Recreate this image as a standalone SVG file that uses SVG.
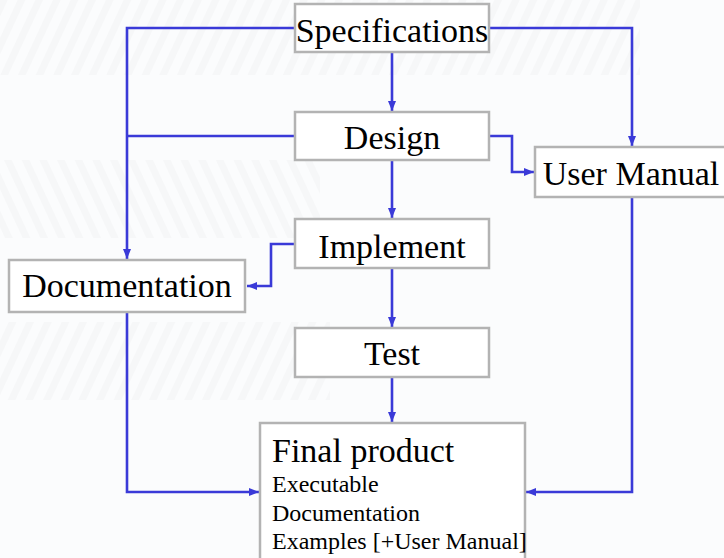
<svg xmlns="http://www.w3.org/2000/svg" width="724" height="558" viewBox="0 0 724 558">
  <style>
    .box { fill: #ffffff; stroke: #b3b3b3; stroke-width: 2.5; }
    .lbl { font-family: "Liberation Serif", "Times New Roman", serif; font-size: 34px; fill: #000000; }
    .sub { font-family: "Liberation Serif", "Times New Roman", serif; font-size: 24px; fill: #000000; }
    .wire { fill: none; stroke: #3a3ad8; stroke-width: 2.6; }
  </style>
  <defs>
    <marker id="arrow" markerUnits="userSpaceOnUse" markerWidth="10" markerHeight="10" viewBox="0 0 10 10" refX="10" refY="5" orient="auto">
      <path d="M0,1 L10,5 L0,9 Z" fill="#3a3ad8"/>
    </marker>
    <pattern id="streaksA" width="16" height="16" patternUnits="userSpaceOnUse" patternTransform="rotate(25)">
      <rect width="16" height="16" fill="#fbfcfd"/>
      <rect width="7" height="16" fill="#f4f5f6"/>
    </pattern>
    <pattern id="streaksB" width="16" height="16" patternUnits="userSpaceOnUse" patternTransform="rotate(-25)">
      <rect width="16" height="16" fill="#fbfcfd"/>
      <rect width="7" height="16" fill="#f4f5f6"/>
    </pattern>
  </defs>

  <!-- slide background with faint streak bands -->
  <rect width="724" height="558" fill="#fbfcfd"/>
  <rect x="0" y="0" width="640" height="75" fill="url(#streaksA)" opacity="0.7"/>
  <rect x="0" y="160" width="320" height="78" fill="url(#streaksB)" opacity="0.7"/>
  <rect x="0" y="322" width="330" height="78" fill="url(#streaksA)" opacity="0.7"/>

  <g id="connectors">
    <!-- Specifications / Design to Documentation -->
    <path class="wire" d="M295,28 H127 V259" marker-end="url(#arrow)"/>
    <path class="wire" d="M295,136 H127"/>
    <!-- Specifications to User Manual -->
    <path class="wire" d="M489,28 H632 V146" marker-end="url(#arrow)"/>
    <!-- main chain -->
    <path class="wire" d="M392,52 V111" marker-end="url(#arrow)"/>
    <path class="wire" d="M392,160 V218" marker-end="url(#arrow)"/>
    <path class="wire" d="M392,268 V327" marker-end="url(#arrow)"/>
    <path class="wire" d="M392,377 V422" marker-end="url(#arrow)"/>
    <!-- Design to User Manual -->
    <path class="wire" d="M489,136 H512 V172 H534" marker-end="url(#arrow)"/>
    <!-- Implement to Documentation -->
    <path class="wire" d="M295,244 H271 V286 H247" marker-end="url(#arrow)"/>
    <!-- Documentation / User Manual to Final product -->
    <path class="wire" d="M127,312 V492 H259" marker-end="url(#arrow)"/>
    <path class="wire" d="M632,197 V492 H526" marker-end="url(#arrow)"/>
  </g>

  <g id="specifications">
    <rect class="box" x="295" y="4" width="194" height="48"/>
    <text class="lbl" x="392" y="42" text-anchor="middle">Specifications</text>
  </g>
  <g id="design">
    <rect class="box" x="295" y="112" width="194" height="48"/>
    <text class="lbl" x="392" y="149" text-anchor="middle">Design</text>
  </g>
  <g id="user-manual">
    <rect class="box" x="535" y="147" width="192" height="50"/>
    <text class="lbl" x="631" y="185" text-anchor="middle">User Manual</text>
  </g>
  <g id="implement">
    <rect class="box" x="295" y="219" width="194" height="49"/>
    <text class="lbl" x="392" y="258" text-anchor="middle">Implement</text>
  </g>
  <g id="documentation">
    <rect class="box" x="9" y="260" width="236" height="52"/>
    <text class="lbl" x="127" y="297" text-anchor="middle">Documentation</text>
  </g>
  <g id="test">
    <rect class="box" x="295" y="328" width="194" height="49"/>
    <text class="lbl" x="392" y="365" text-anchor="middle">Test</text>
  </g>
  <g id="final-product">
    <rect class="box" x="260" y="423" width="265" height="145"/>
    <text class="lbl" x="272" y="462">Final product</text>
    <text class="sub" x="272" y="492">Executable</text>
    <text class="sub" x="272" y="521">Documentation</text>
    <text class="sub" x="272" y="549">Examples [+User Manual]</text>
  </g>
</svg>
